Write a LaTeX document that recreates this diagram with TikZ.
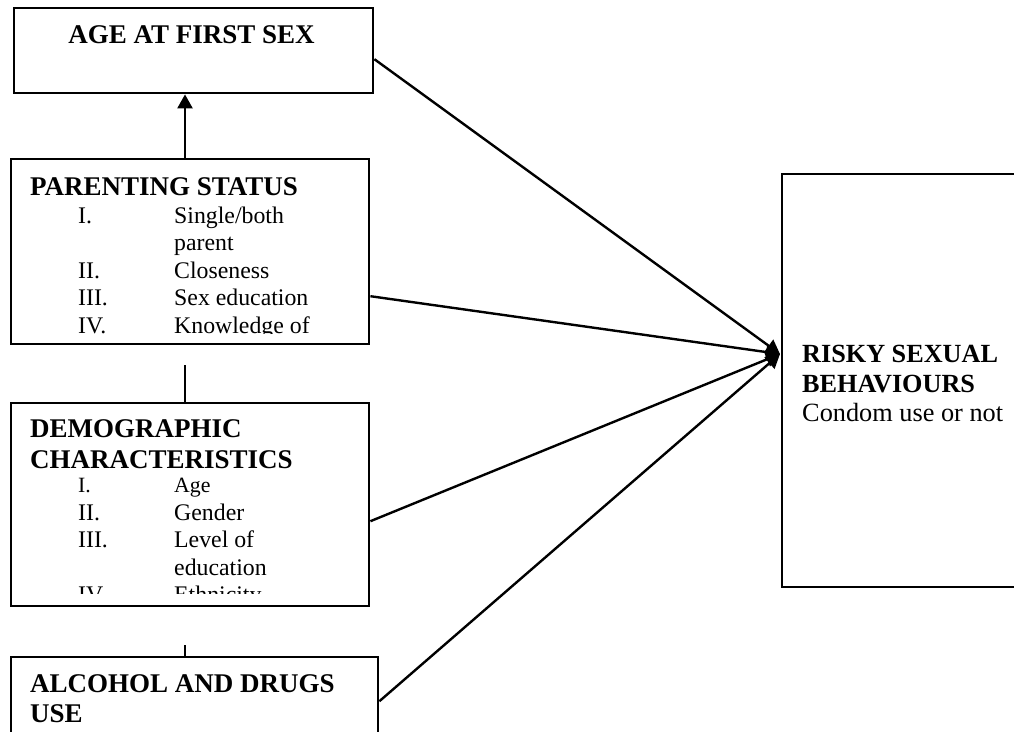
\documentclass[tikz,border=0pt]{standalone}
\usepackage{fontspec}
\setmainfont{Liberation Serif}
\usetikzlibrary{arrows.meta}
\tikzset{
  box/.style={draw, line width=2.4pt, rectangle, inner sep=0pt, anchor=north west},
  txt/.style={inner sep=0pt, anchor=base west},
  ttl/.style={txt, font=\fontsize{27}{30}\selectfont\bfseries},
  rttl/.style={txt, font=\fontsize{26.2}{30}\selectfont\bfseries},
  body/.style={txt, font=\fontsize{23.8}{27.5}\selectfont},
  small/.style={txt, font=\fontsize{21.8}{26}\selectfont},
  conn/.style={line width=2.4pt},
  arr/.style={line width=2.4pt, -{Triangle[length=14pt,width=15pt]}},
}
\begin{document}
\begin{tikzpicture}[x=1pt,y=-1pt]
\useasboundingbox (0,0) rectangle (1014,731);
\fill[white] (0,0) rectangle (1014,731);
% boxes
\node[box, minimum width=359pt, minimum height=85pt] (age) at (13,7) {};
\node[box, minimum width=358pt, minimum height=185pt] (par) at (10,158) {};
\node[box, minimum width=358pt, minimum height=203pt] (demo) at (10,402) {};
\node[box, minimum width=367pt, minimum height=110pt] (alc) at (10,656) {};
\node[box, minimum width=250pt, minimum height=413pt] (risk) at (781,173) {};
% texts
\node[ttl, anchor=base] (agetitle) at (191.5,43) {AGE AT FIRST SEX};
\node[ttl] (partitle) at (30,195) {PARENTING STATUS};
\begin{scope}
\clip (12,160) rectangle (366,333);
\node[body] (p1n) at (78,223) {I.};
\node[body] (p1t) at (174,223) {Single/both};
\node[body] (p1u) at (174,250.5) {parent};
\node[body] (p2n) at (78,278) {II.};
\node[body] (p2t) at (174,278) {Closeness};
\node[body] (p3n) at (78,305.5) {III.};
\node[body] (p3t) at (174,305.5) {Sex education};
\node[body] (p4n) at (78,333) {IV.};
\node[body] (p4t) at (174,333) {Knowledge of};
\end{scope}
\node[ttl] (demotitle1) at (30,437) {DEMOGRAPHIC};
\node[ttl] (demotitle2) at (30,468) {CHARACTERISTICS};
\begin{scope}
\clip (12,470) rectangle (366,593);
\node[small] (d1n) at (78,492.5) {I.};
\node[small] (d1t) at (174,492.5) {Age};
\node[body] (d2n) at (78,520) {II.};
\node[body] (d2t) at (174,520) {Gender};
\node[body] (d3n) at (78,547.5) {III.};
\node[body] (d3t) at (174,547.5) {Level of};
\node[body] (d3u) at (174,575) {education};
\node[body] (d4n) at (78,602.5) {IV.};
\node[body] (d4t) at (174,602.5) {Ethnicity};
\end{scope}
\node[ttl] (alct1) at (30,692) {ALCOHOL AND DRUGS};
\node[ttl] (alct2) at (30,722) {USE};
\node[rttl] (riskt1) at (802,362) {RISKY SEXUAL};
\node[rttl] (riskt2) at (802,392) {BEHAVIOURS};
\node[txt, font=\fontsize{26.3}{30}\selectfont] (riskt3) at (802,421) {Condom use or not};
% connectors
\coordinate (vx) at (185,0);
\coordinate (gap1) at (185,365);
\coordinate (gap2) at (185,645);
\coordinate (tip) at (780,354);
\draw[arr] (par.north -| vx) -- (age.south -| vx);
\draw[conn] (gap1) -- (demo.north -| vx);
\draw[conn] (gap2) -- (alc.north -| vx);
\draw[arr] ([yshift=-8.5pt]age.east) -- (tip);
\draw[arr] ([yshift=-44.5pt]par.east) -- (tip);
\draw[arr] ([yshift=-16.5pt]demo.east) -- (tip);
\draw[arr] ([yshift=11pt]alc.east) -- (tip);
\end{tikzpicture}
\end{document}
